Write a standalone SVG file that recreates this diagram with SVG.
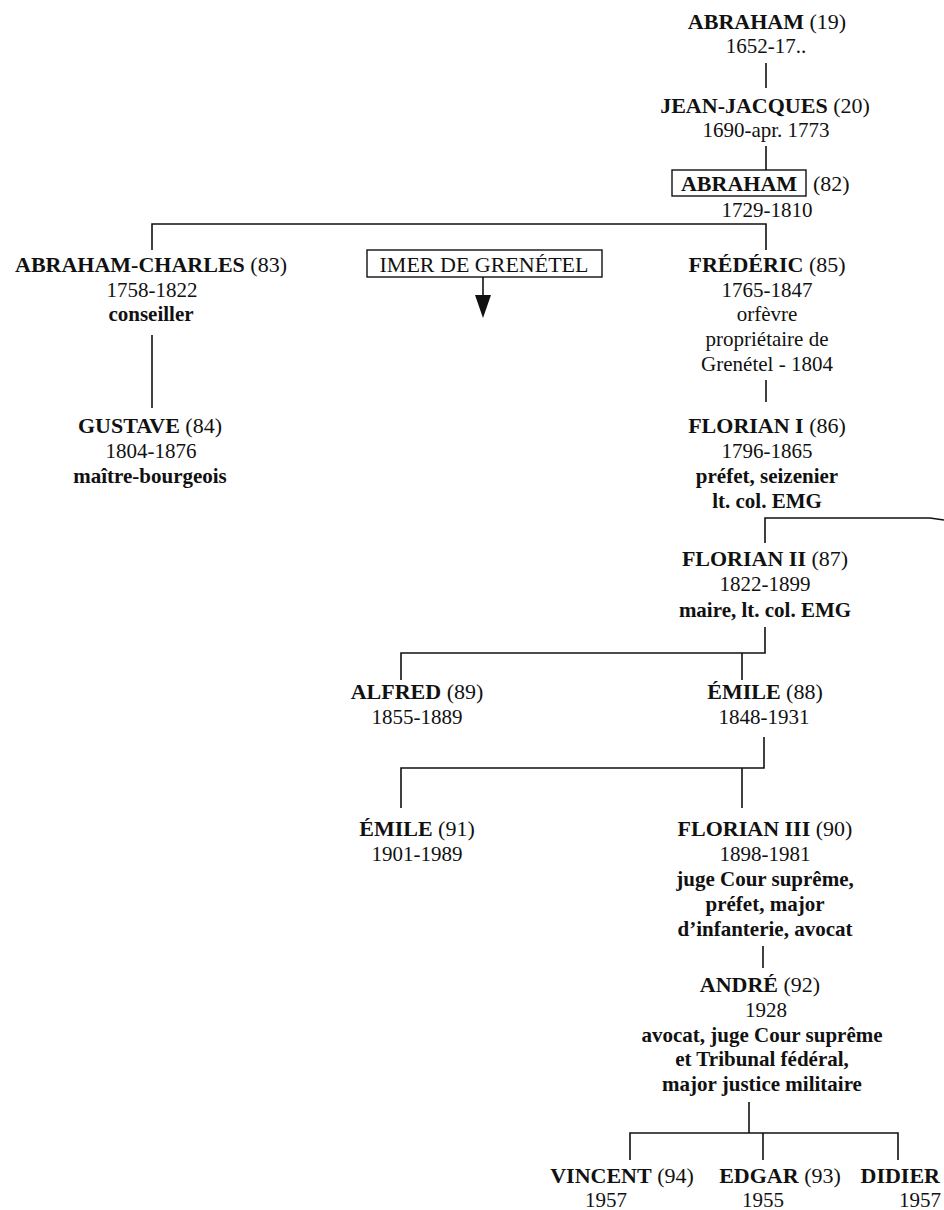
<svg xmlns="http://www.w3.org/2000/svg" width="944" height="1210" viewBox="0 0 944 1210">
  <style>
    text { font-family: "Liberation Serif", "Times New Roman", serif; font-size: 22px; fill: #111; text-anchor: middle; }
    .b { font-weight: bold; }
    .r { font-weight: normal; }
    .occ { font-weight: bold; font-size: 21px; }
    .note { font-size: 21px; }
    .link { fill: none; stroke: #111; stroke-width: 1.6; }
    .box { fill: #fff; stroke: #111; stroke-width: 1.4; }
    .head { fill: #111; stroke: none; }
  </style>
  <rect width="944" height="1210" fill="#fff"/>

  <!-- connectors -->
  <g id="connectors" class="link">
    <path d="M766,63 V88"/>
    <path d="M766,146 V170"/>
    <path d="M152,250 V224 H766 V250"/>
    <path d="M152,335 V408"/>
    <path d="M766,380 V402"/>
    <path d="M765,543 V518 H930 L944,520"/>
    <path d="M765,627 V653 H401 V680"/>
    <path d="M742,653 V680"/>
    <path d="M764,737 V768 H401 V808"/>
    <path d="M742,768 V808"/>
    <path d="M763,946 V968"/>
    <path d="M749,1102 V1133"/>
    <path d="M630,1160 V1133 H898 V1160"/>
    <path d="M763,1133 V1160"/>
    <path d="M483,277 V300"/>
    <path class="head" d="M475,295 L491,295 L483,318 Z"/>
  </g>

  <g id="abraham-19">
    <text x="767" y="29"><tspan class="b">ABRAHAM</tspan> <tspan class="r">(19)</tspan></text>
    <text x="766" y="53" class="note">1652-17..</text>
  </g>

  <g id="jean-jacques-20">
    <text x="765" y="113"><tspan class="b">JEAN-JACQUES</tspan> <tspan class="r">(20)</tspan></text>
    <text x="766" y="137" class="note">1690-apr. 1773</text>
  </g>

  <g id="abraham-82">
    <rect class="box" x="672" y="170" width="134" height="26"/>
    <text x="739" y="191" class="b">ABRAHAM</text>
    <text x="813" y="191" style="text-anchor:start">(82)</text>
    <text x="767" y="217" class="note">1729-1810</text>
  </g>

  <g id="abraham-charles-83">
    <text x="151" y="272"><tspan class="b">ABRAHAM-CHARLES</tspan> <tspan class="r">(83)</tspan></text>
    <text x="152" y="297" class="note">1758-1822</text>
    <text x="151" y="321" class="occ">conseiller</text>
  </g>

  <g id="gustave-84">
    <text x="150" y="433"><tspan class="b">GUSTAVE</tspan> <tspan class="r">(84)</tspan></text>
    <text x="151" y="458" class="note">1804-1876</text>
    <text x="150" y="483" class="occ">maître-bourgeois</text>
  </g>

  <g id="imer-de-grenetel">
    <rect class="box" x="367" y="250" width="235" height="27"/>
    <text x="484" y="272">IMER DE GRENÉTEL</text>
  </g>

  <g id="frederic-85">
    <text x="767" y="272"><tspan class="b">FRÉDÉRIC</tspan> <tspan class="r">(85)</tspan></text>
    <text x="767" y="297" class="note">1765-1847</text>
    <text x="767" y="321" class="note">orfèvre</text>
    <text x="767" y="346" class="note">propriétaire de</text>
    <text x="767" y="371" class="note">Grenétel - 1804</text>
  </g>

  <g id="florian-i-86">
    <text x="767" y="433"><tspan class="b">FLORIAN I</tspan> <tspan class="r">(86)</tspan></text>
    <text x="767" y="458" class="note">1796-1865</text>
    <text x="767" y="483" class="occ">préfet, seizenier</text>
    <text x="767" y="508" class="occ">lt. col. EMG</text>
  </g>

  <g id="florian-ii-87">
    <text x="765" y="566"><tspan class="b">FLORIAN II</tspan> <tspan class="r">(87)</tspan></text>
    <text x="765" y="591" class="note">1822-1899</text>
    <text x="765" y="617" class="occ">maire, lt. col. EMG</text>
  </g>

  <g id="alfred-89">
    <text x="417" y="699"><tspan class="b">ALFRED</tspan> <tspan class="r">(89)</tspan></text>
    <text x="417" y="724" class="note">1855-1889</text>
  </g>

  <g id="emile-88">
    <text x="765" y="699"><tspan class="b">ÉMILE</tspan> <tspan class="r">(88)</tspan></text>
    <text x="764" y="724" class="note">1848-1931</text>
  </g>

  <g id="emile-91">
    <text x="417" y="836"><tspan class="b">ÉMILE</tspan> <tspan class="r">(91)</tspan></text>
    <text x="417" y="861" class="note">1901-1989</text>
  </g>

  <g id="florian-iii-90">
    <text x="765" y="836"><tspan class="b">FLORIAN III</tspan> <tspan class="r">(90)</tspan></text>
    <text x="765" y="861" class="note">1898-1981</text>
    <text x="765" y="886" class="occ">juge Cour suprême,</text>
    <text x="765" y="911" class="occ">préfet, major</text>
    <text x="765" y="936" class="occ">d’infanterie, avocat</text>
  </g>

  <g id="andre-92">
    <text x="760" y="992"><tspan class="b">ANDRÉ</tspan> <tspan class="r">(92)</tspan></text>
    <text x="766" y="1017" class="note">1928</text>
    <text x="762" y="1042" class="occ">avocat, juge Cour suprême</text>
    <text x="762" y="1066" class="occ">et Tribunal fédéral,</text>
    <text x="762" y="1091" class="occ">major justice militaire</text>
  </g>

  <g id="vincent-94">
    <text x="622" y="1183"><tspan class="b">VINCENT</tspan> <tspan class="r">(94)</tspan></text>
    <text x="606" y="1207" class="note">1957</text>
  </g>

  <g id="edgar-93">
    <text x="780" y="1183"><tspan class="b">EDGAR</tspan> <tspan class="r">(93)</tspan></text>
    <text x="763" y="1207" class="note">1955</text>
  </g>

  <g id="didier">
    <text x="940" y="1183" class="b" style="text-anchor:end">DIDIER</text>
    <text x="920" y="1207" class="note">1957</text>
  </g>
</svg>
